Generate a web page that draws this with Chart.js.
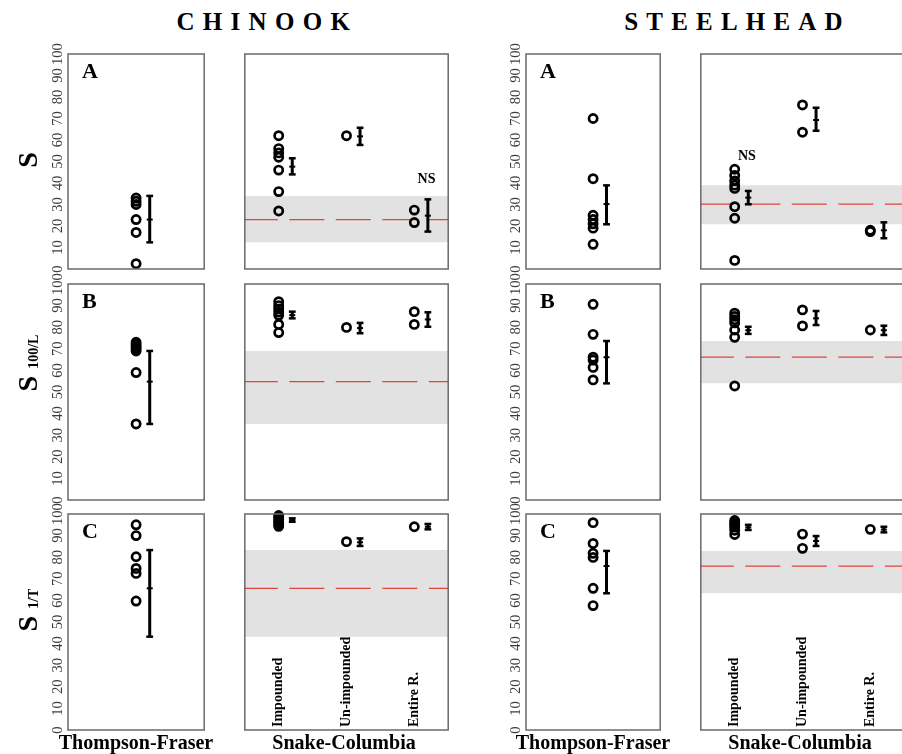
<!DOCTYPE html>
<html><head><meta charset="utf-8">
<script src="https://cdn.jsdelivr.net/npm/chart.js@4"></script>
<style>
html,body{margin:0;padding:0;overflow:hidden;background:#fff;}
#wrap{position:relative;width:902px;height:754px;overflow:hidden;background:#fff;}
#wrap canvas{position:absolute;}
.t{position:absolute;font-family:"Liberation Serif","Times New Roman",serif;font-weight:bold;color:#000;white-space:nowrap;}
</style></head><body><div id="wrap"></div>
<script>
// ---------------- DATA ----------------
const yTickValues = [0,10,20,30,40,50,60,70,80,90,100];
const scGroups = ["Impounded", "Un-impounded", "Entire R."];

// Chinook, Thompson-Fraser (points; CI = [low, mean, high])
const chkTF_A = [33, 31.5, 30, 23, 17, 2.5];
const chkTF_A_ci = [12.4, 23, 34];
const chkTF_B = [73, 72, 71, 70, 69, 59, 35.2];
const chkTF_B_ci = [35.2, 54.8, 69];
const chkTF_C = [95, 90, 80.2, 74.8, 72.5, 59.7];
const chkTF_C_ci = [43.2, 65.6, 83.3];

// Chinook, Snake-Columbia (Impounded, Un-impounded, Entire R.)
const chkSC_A_imp = [62, 56, 54, 52, 46, 36, 27];
const chkSC_A_unimp = [62];
const chkSC_A_ent = [27.4, 21.6];
const chkSC_A_ci = [[44, 47.6, 51.5], [57.7, 61.7, 65.7], [17.4, 24.8, 32.4]];
const chkSC_A_notes = [{group: 2, text: "NS", y: 40}];

const chkSC_B_imp = [91.8, 90, 88.5, 87, 85.5, 81.3, 77.5];
const chkSC_B_unimp = [79.9];
const chkSC_B_ent = [87.2, 81.3];
const chkSC_B_ci = [[84.1, 85.6, 87.2], [77.2, 79.6, 82], [80.2, 83.6, 86.9]];

const chkSC_C_imp = [99.3, 98.3, 97.3, 96.3, 95.3, 94.3];
const chkSC_C_unimp = [87.2];
const chkSC_C_ent = [94.1];
const chkSC_C_ci = [[96.4, 97.2, 98], [85.2, 86.9, 88.7], [92.9, 94.1, 95.4]];

// Steelhead, Thompson-Fraser
const sthTF_A = [70, 42, 25, 23, 21, 19, 11.5];
const sthTF_A_ci = [20.8, 30.2, 38.9];
const sthTF_B = [90.6, 76.7, 66.1, 64.8, 61.4, 55.6];
const sthTF_B_ci = [54, 66.1, 73.6];
const sthTF_C = [96, 86.4, 81.8, 79.9, 65.6, 57.6];
const sthTF_C_ci = [63.3, 75.9, 82.9];

// Steelhead, Snake-Columbia
const sthSC_A_imp = [46.4, 43.5, 41, 39, 37.5, 29, 23.6, 4];
const sthSC_A_unimp = [76.3, 63.6];
const sthSC_A_ent = [18, 17.4];
const sthSC_A_ci = [[30.1, 33.2, 36.3], [64.3, 69.3, 75], [14.3, 18, 21.7]];
const sthSC_A_notes = [{group: 0, text: "NS", y: 50.7}];

const sthSC_B_imp = [86.5, 85, 83.5, 82, 78.7, 75.3, 52.8];
const sthSC_B_unimp = [88, 80.6];
const sthSC_B_ent = [78.7];
const sthSC_B_ci = [[76.9, 78.6, 80.2], [81, 84.1, 87.5], [76.4, 78.6, 80.7]];

const sthSC_C_imp = [97, 96, 95, 94, 92.5, 90.5];
const sthSC_C_unimp = [90.7, 84.1];
const sthSC_C_ent = [92.9];
const sthSC_C_ci = [[92.6, 93.8, 95], [85.2, 87.5, 89.8], [91.5, 92.8, 94.1]];

// ---------------- LAYOUT / STYLE ----------------
const SERIF = '"Liberation Serif","Times New Roman",serif';
const rows = [{top:54,bottom:269},{top:284,bottom:500},{top:514,bottom:730}];
const cols = {chkTF:[68,207], chkSC:[242,451], sthTF:[526,663], sthSC:[698,907]};
const wrap = document.getElementById('wrap');

const framePlugin = {
  id: 'frame',
  afterDatasetsDraw(chart, args, opts) {
    const ctx = chart.ctx, a = chart.chartArea;
    const xs = chart.scales.x, ys = chart.scales.y;
    ctx.save();
    ctx.strokeStyle = '#6a6a6a';
    ctx.lineWidth = 1.5;
    ctx.strokeRect(a.left, a.top, a.right - a.left, a.bottom - a.top);
    ctx.fillStyle = '#000';
    if (opts.letter) {
      ctx.font = 'bold 22px ' + SERIF;
      ctx.textAlign = 'left'; ctx.textBaseline = 'alphabetic';
      ctx.fillText(opts.letter, a.left + 14, a.top + 24);
    }
    (opts.notes || []).forEach(n => {
      ctx.font = 'bold 14px ' + SERIF;
      ctx.textAlign = 'center'; ctx.textBaseline = 'alphabetic';
      ctx.fillText(n.text, xs.getPixelForValue(2 * n.group + 1.36), ys.getPixelForValue(n.y));
    });
    if (opts.cats) {
      ctx.font = 'bold 14px ' + SERIF;
      ctx.textAlign = 'left'; ctx.textBaseline = 'middle';
      opts.cats.forEach((c, i) => {
        ctx.save();
        ctx.translate(xs.getPixelForValue(2 * i + 1), a.bottom - 3);
        ctx.rotate(-Math.PI / 2);
        ctx.fillText(c, 0, 0);
        ctx.restore();
      });
    }
    ctx.restore();
  }
};

function addCanvas(left, top, w, h) {
  const c = document.createElement('canvas');
  c.width = w; c.height = h;
  c.style.left = left + 'px'; c.style.top = top + 'px';
  c.style.width = w + 'px'; c.style.height = h + 'px';
  wrap.appendChild(c);
  return c;
}

function pointsDS(pts) {
  return {type:'scatter', data: pts, pointStyle:'circle', pointRadius:4.1, pointBorderWidth:2.7,
          pointBorderColor:'#000', pointBackgroundColor:'rgba(0,0,0,0)', clip:false, order:0};
}
function errDS(x, ci) {
  return {type:'line', data:[{x:x,y:ci[0]},{x:x,y:ci[2]}], borderColor:'#000', borderWidth:3,
          pointStyle:'line', pointRadius:3.4, pointBorderWidth:2.5, pointBorderColor:'#000',
          fill:false, clip:false, order:0};
}
function meanDS(pts) {
  return {type:'scatter', data: pts, pointStyle:'line', pointRadius:3, pointBorderWidth:2,
          pointBorderColor:'#000', clip:false, order:0};
}

function baseOptions(pad, yAxisVisible, frameOpts, xmax) {
  const y = {type:'linear', min:0, max:100, display:yAxisVisible,
         afterBuildTicks: s => { s.ticks = yTickValues.map(v => ({value:v})); },
         grid:{display:false, drawTicks:false},
         border:{display:false},
         ticks:{autoSkip:false, minRotation:90, maxRotation:90, crossAlign:'center', padding:-1,
                color:'#3c3c3c', font:{family:SERIF, size:14.5}}};
  if (yAxisVisible) y.afterFit = s => { s.width = 32; };
  return {
    responsive:false, animation:false, devicePixelRatio:1,
    layout:{padding:pad},
    plugins:{legend:{display:false}, tooltip:{enabled:false}, frame:frameOpts},
    scales:{
      x:{type:'linear', min:0, max:xmax, display:false},
      y: y
    }
  };
}

function tfChart(col, row, vals, ci, letter) {
  const [x0, x1] = col;
  const c = addCanvas(x0 - 32, row.top - 14, x1 - x0 + 36, row.bottom - row.top + 28);
  new Chart(c, {
    type:'scatter',
    data:{datasets:[
      pointsDS(vals.map(v => ({x:1, y:v}))),
      errDS(1.2, ci),
      meanDS([{x:1.2, y:ci[1]}])
    ]},
    options: baseOptions({top:14, bottom:14, left:0, right:4}, true, {letter:letter}, 2),
    plugins:[framePlugin]
  });
}

function scChart(col, row, groups, cis, band, notes, cats) {
  const [x0, x1] = col;
  const c = addCanvas(x0 - 4, row.top - 14, x1 - x0 + 8, row.bottom - row.top + 28);
  const pts = groups.flatMap((g, i) => g.map(v => ({x:2 * i + 1, y:v})));
  const ds = [
    {type:'line', data:[{x:0,y:band[2]},{x:6,y:band[2]}], fill:{value:band[0]},
     backgroundColor:'#e2e2e2', borderColor:'rgba(0,0,0,0)', borderWidth:0, pointRadius:0, order:3},
    {type:'line', data:[{x:0,y:band[1]},{x:6,y:band[1]}], fill:false, borderColor:'#e0443c',
     borderWidth:1.3, borderDash:[35, 11.5], borderDashOffset:2, pointRadius:0, order:2},
    pointsDS(pts),
    ...cis.map((ci, i) => errDS(2 * i + 1.4, ci)),
    meanDS(cis.map((ci, i) => ({x:2 * i + 1.4, y:ci[1]})))
  ];
  new Chart(c, {
    type:'scatter',
    data:{datasets:ds},
    options: baseOptions({top:14, bottom:14, left:4, right:4}, false, {notes:notes, cats:cats}, 6),
    plugins:[framePlugin]
  });
}

// Chinook
tfChart(cols.chkTF, rows[0], chkTF_A, chkTF_A_ci, 'A');
tfChart(cols.chkTF, rows[1], chkTF_B, chkTF_B_ci, 'B');
tfChart(cols.chkTF, rows[2], chkTF_C, chkTF_C_ci, 'C');
scChart(cols.chkSC, rows[0], [chkSC_A_imp, chkSC_A_unimp, chkSC_A_ent], chkSC_A_ci, chkTF_A_ci, chkSC_A_notes, null);
scChart(cols.chkSC, rows[1], [chkSC_B_imp, chkSC_B_unimp, chkSC_B_ent], chkSC_B_ci, chkTF_B_ci, [], null);
scChart(cols.chkSC, rows[2], [chkSC_C_imp, chkSC_C_unimp, chkSC_C_ent], chkSC_C_ci, chkTF_C_ci, [], scGroups);
// Steelhead
tfChart(cols.sthTF, rows[0], sthTF_A, sthTF_A_ci, 'A');
tfChart(cols.sthTF, rows[1], sthTF_B, sthTF_B_ci, 'B');
tfChart(cols.sthTF, rows[2], sthTF_C, sthTF_C_ci, 'C');
scChart(cols.sthSC, rows[0], [sthSC_A_imp, sthSC_A_unimp, sthSC_A_ent], sthSC_A_ci, sthTF_A_ci, sthSC_A_notes, null);
scChart(cols.sthSC, rows[1], [sthSC_B_imp, sthSC_B_unimp, sthSC_B_ent], sthSC_B_ci, sthTF_B_ci, [], null);
scChart(cols.sthSC, rows[2], [sthSC_C_imp, sthSC_C_unimp, sthSC_C_ent], sthSC_C_ci, sthTF_C_ci, [], scGroups);

// ---------------- TEXT ----------------
function addText(html, css) {
  const d = document.createElement('div');
  d.className = 't';
  d.innerHTML = html;
  Object.assign(d.style, css);
  wrap.appendChild(d);
  return d;
}
// species titles
addText('CHINOOK', {left:'159px', top:'9px', width:'200px', textAlign:'center', fontSize:'25px', lineHeight:'25px', letterSpacing:'8.3px', paddingLeft:'8.3px'});
addText('STEELHEAD', {left:'616px', top:'9px', width:'200px', textAlign:'center', fontSize:'25px', lineHeight:'25px', letterSpacing:'8.2px', paddingLeft:'8.2px'});
// bottom labels
const bottomLabels = [['Thompson-Fraser', 136], ['Snake-Columbia', 344], ['Thompson-Fraser', 593], ['Snake-Columbia', 800]];
bottomLabels.forEach(([txt, cx]) => addText(txt, {left:(cx - 110) + 'px', top:'732px', width:'220px', textAlign:'center', fontSize:'20px', lineHeight:'20px'}));
// y-axis titles (rotated)
const yTitles = [['S', '', 160], ['S', '100/L', 363], ['S', '1/T', 610]];
yTitles.forEach(([main, sup, cy]) => {
  const html = main + (sup ? '<span style="font-size:14px;line-height:0;position:relative;top:1px;margin-left:7px">' + sup + '</span>' : '');
  addText(html, {left:'28px', top:cy + 'px', fontSize:'28px', lineHeight:'28px', transform:'translate(-50%,-50%) rotate(-90deg)'});
});
</script>
</body></html>
